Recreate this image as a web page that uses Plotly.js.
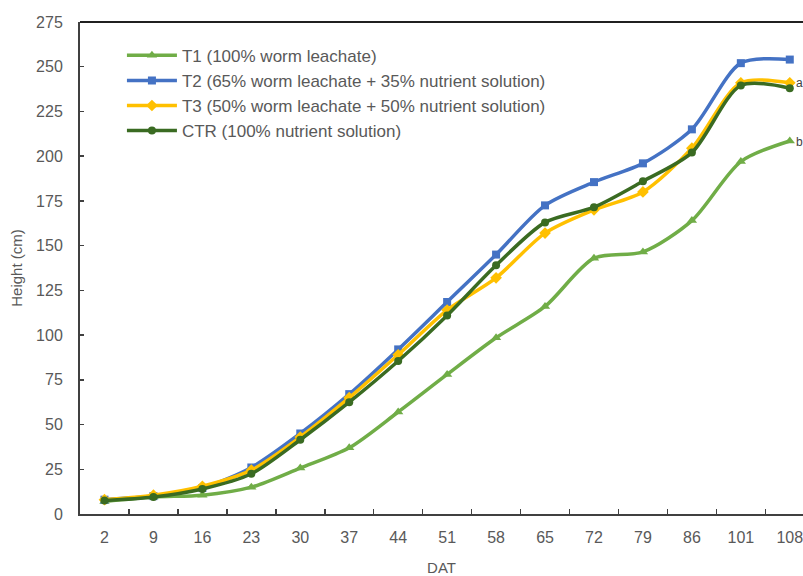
<!DOCTYPE html>
<html>
<head>
<meta charset="utf-8">
<script src="https://cdn.plot.ly/plotly-3.0.1.min.js"></script>
<style>
html,body{margin:0;padding:0;background:#fff;overflow:hidden;}
#chart{width:803px;height:576px;}
</style>
</head>
<body>
<div id="chart"></div>
<script>
const categories = ['2','9','16','23','30','37','44','51','58','65','72','79','86','101','108'];
const t1 = [7, 9.5, 10.5, 15, 25.7, 37, 57, 78, 98.5, 116, 143, 146.5, 164, 197, 208.5];
const t2 = [8, 10, 14.5, 26, 45, 67, 92, 118.5, 145, 172.5, 185.5, 196, 215, 252, 254];
const t3 = [8, 10.5, 15.5, 24.5, 43, 65, 89, 114, 132, 157, 170, 180, 204.5, 241, 241];
const ctr = [7.5, 9.5, 14, 22.5, 41.5, 62.5, 85.5, 111, 139, 163, 171.5, 186, 202, 239.5, 238];
const seriesNames = [
  'T1 (100% worm leachate)',
  'T2 (65% worm leachate + 35% nutrient solution)',
  'T3 (50% worm leachate + 50% nutrient solution)',
  'CTR (100% nutrient solution)'
];
const letters = ['a', 'b'];
const letterY = [241, 208];

function tr(y, name, color, symbol, size) {
  return {
    x: categories, y: y, name: name, type: 'scatter', mode: 'lines+markers',
    line: {color: color, width: 3.5, shape: 'spline', smoothing: 0.8},
    marker: {color: color, symbol: symbol, size: size},
    cliponaxis: false
  };
}
const data = [
  tr(t1, seriesNames[0], '#70AD47', 'triangle-up', 9),
  tr(t2, seriesNames[1], '#4472C4', 'square', 8),
  tr(t3, seriesNames[2], '#FFC000', 'diamond', 9),
  tr(ctr, seriesNames[3], '#3A6B22', 'circle', 8)
];
const fontFam = 'Liberation Sans, Arial, sans-serif';
const layout = {
  width: 803, height: 576,
  margin: {l: 80, r: 0, t: 22, b: 62},
  paper_bgcolor: '#fff', plot_bgcolor: '#fff',
  font: {family: fontFam, size: 16, color: '#595959'},
  showlegend: true,
  legend: {x: 0.058, y: 0.968, xanchor: 'left', yanchor: 'top', bgcolor: 'rgba(0,0,0,0)',
           font: {family: fontFam, size: 17, color: '#595959'}, tracegroupgap: 0, itemwidth: 50},
  xaxis: {
    type: 'category', range: [-0.5, 14.27], tickson: 'boundaries',
    ticks: 'inside', ticklen: 5, tickcolor: '#404040', tickwidth: 1.5,
    showline: true, linecolor: '#404040', linewidth: 2, showgrid: false, zeroline: false,
    tickfont: {size: 16, color: '#595959'}, ticklabelstandoff: 8,
    title: {text: 'DAT', font: {size: 15, color: '#595959'}, standoff: 17}
  },
  yaxis: {
    range: [0, 275], dtick: 25, tick0: 0,
    ticks: 'inside', ticklen: 4, tickcolor: '#404040', tickwidth: 1.5,
    showline: true, linecolor: '#404040', linewidth: 2, showgrid: false, zeroline: false,
    tickfont: {size: 16, color: '#595959'}, ticklabelstandoff: 12,
    title: {text: 'Height (cm)', font: {size: 15, color: '#595959'}, standoff: 10}
  },
  shapes: [{type: 'line', xref: 'paper', yref: 'paper', x0: 0, x1: 1, y0: 1, y1: 1,
            line: {color: '#202020', width: 2}}],
  annotations: letters.map((t, i) => ({
    x: 14.08, y: letterY[i], xref: 'x', yref: 'y', text: t, showarrow: false,
    xanchor: 'left', yanchor: 'middle', font: {size: 12, color: '#404040'}
  }))
};
Plotly.newPlot('chart', data, layout, {displayModeBar: false, staticPlot: true});
</script>
</body>
</html>
